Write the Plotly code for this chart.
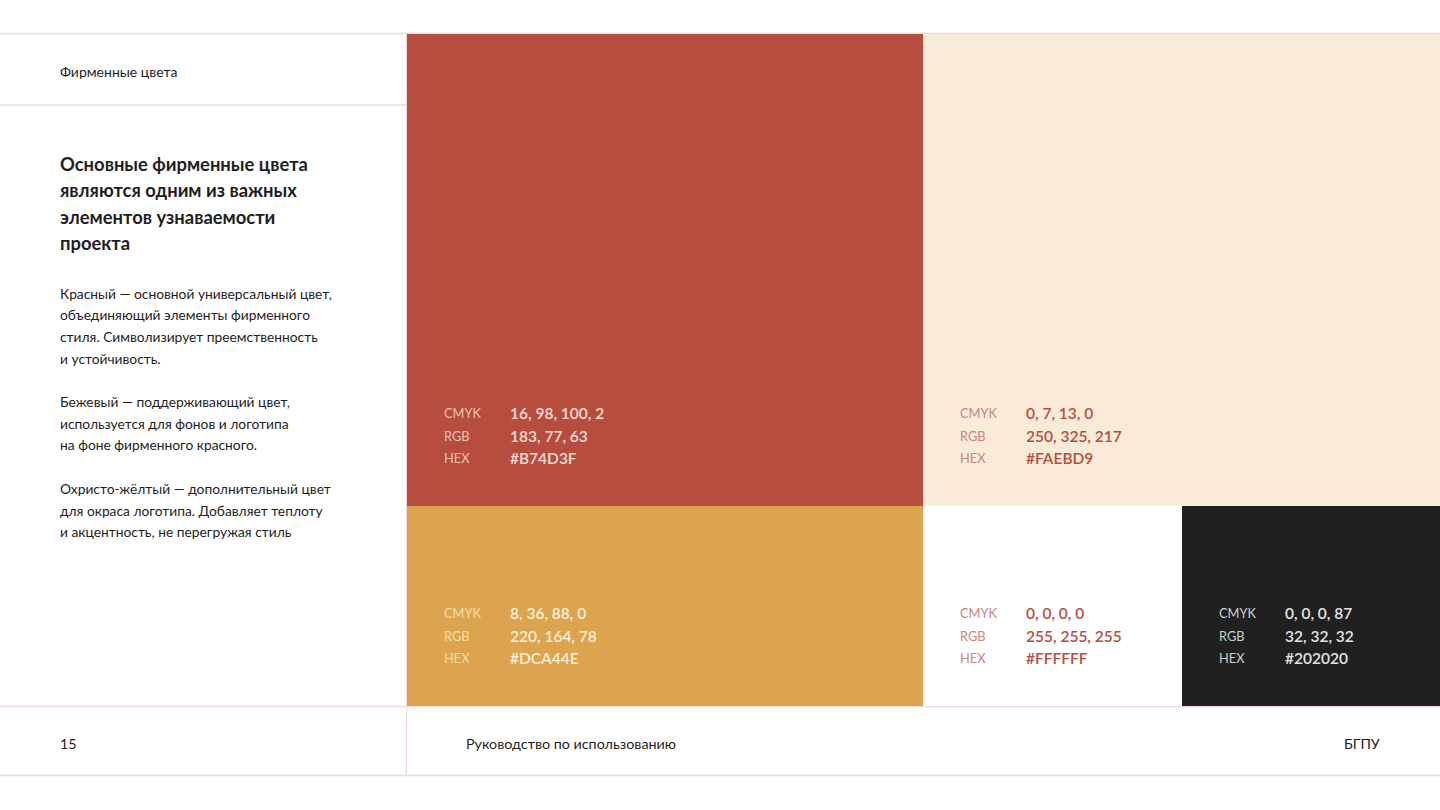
import plotly.graph_objects as go

W, H = 1440, 810
FONT = "Lato"

# ---- data ----
swatch_names = ["Красный", "Бежевый", "Охристо-жёлтый", "Белый", "Чёрный"]
swatch_hex = ["#B74D3F", "#FAEBD9", "#DCA44E", "#FFFFFF", "#202020"]
swatch_cmyk = ["16, 98, 100, 2", "0, 7, 13, 0", "8, 36, 88, 0", "0, 0, 0, 0", "0, 0, 0, 87"]
swatch_rgb = ["183, 77, 63", "250, 325, 217", "220, 164, 78", "255, 255, 255", "32, 32, 32"]
row_labels = ["CMYK", "RGB", "HEX"]

header_text = "Фирменные цвета"
heading_lines = ["Основные фирменные цвета", "являются одним из важных",
                 "элементов узнаваемости", "проекта"]
body_paragraphs = [
    ["Красный — основной универсальный цвет,", "объединяющий элементы фирменного",
     "стиля. Символизирует преемственность", "и устойчивость."],
    ["Бежевый — поддерживающий цвет,", "используется для фонов и логотипа",
     "на фоне фирменного красного."],
    ["Охристо-жёлтый — дополнительный цвет", "для окраса логотипа. Добавляет теплоту",
     "и акцентность, не перегружая стиль"],
]
page_number = "15"
footer_mid = "Руководство по использованию"
footer_right = "БГПУ"

# ---- layout / styling (positions in page pixels) ----
blocks = [  # x0, y0, x1, y1, text-y of first row
    (407, 34, 923, 506, 413),
    (923, 34, 1440, 506, 413),
    (407, 506, 923, 706, 613),
    (923, 506, 1182, 706, 613),
    (1182, 506, 1440, 706, 613),
]
label_colors = ["#F0C2B6", "#C7877A", "#F6DDA8", "#C98679", "#CFCFCF"]
value_colors = ["#F8DED4", "#B74D3F", "#FCF0DA", "#B74D3F", "#E4E4E4"]
LINE = "#EFD9D9"
TXT = "#1E1E1E"
PAD = 2  # annotation inner padding compensation

shapes = []
annotations = []

def hline(y, x0, x1):
    shapes.append(dict(type="line", x0=x0, x1=x1, y0=y, y1=y, xref="x", yref="y",
                       line=dict(color=LINE, width=1.3), layer="below"))

def vline(x, y0, y1):
    shapes.append(dict(type="line", x0=x, x1=x, y0=y0, y1=y1, xref="x", yref="y",
                       line=dict(color=LINE, width=1.3), layer="below"))

hline(33.5, 0, W)
hline(105, 0, 406)
hline(706.5, 0, W)
hline(775.5, 0, W)
vline(406.5, 33.5, 775.5)

def text(x, y, s, size, color=TXT, weight="normal", anchor="left"):
    xx = x - PAD if anchor == "left" else x + PAD
    annotations.append(dict(x=xx, y=y, xref="x", yref="y", text=s, showarrow=False,
                            xanchor=anchor, yanchor="middle",
                            font=dict(family=FONT, size=size, color=color, weight=weight)))

for i, (x0, y0, x1, y1, ty) in enumerate(blocks):
    shapes.append(dict(type="rect", x0=x0, x1=x1, y0=y0, y1=y1, xref="x", yref="y",
                       fillcolor=swatch_hex[i], line=dict(width=0), layer="above"))
    vals = [swatch_cmyk[i], swatch_rgb[i], swatch_hex[i]]
    for j in range(3):
        yy = ty + j * 22.7
        text(x0 + 37, yy, row_labels[j], 12.8, label_colors[i])
        text(x0 + 103, yy, vals[j], 15.5, value_colors[i], weight=600)

text(60, 71, header_text, 14)
for k, s in enumerate(heading_lines):
    text(60, 164 + k * 26.4, s, 18.4, weight="bold")

y = 293
for para in body_paragraphs:
    for s in para:
        text(60, y, s, 13.8)
        y += 21.7
    y += 21.7

text(60, 743, page_number, 14.2)
text(466, 743, footer_mid, 14.3)
text(1380, 743, footer_right, 14.2, anchor="right")

fig = go.Figure()
fig.update_layout(
    width=W, height=H, margin=dict(l=0, r=0, t=0, b=0),
    paper_bgcolor="white", plot_bgcolor="white",
    xaxis=dict(range=[0, W], visible=False, fixedrange=True),
    yaxis=dict(range=[H, 0], visible=False, fixedrange=True),
    shapes=shapes, annotations=annotations, showlegend=False,
)
fig.write_html("out.html", config={"displayModeBar": False},
               post_script="document.body.style.margin='0';document.body.style.overflow='hidden';")
